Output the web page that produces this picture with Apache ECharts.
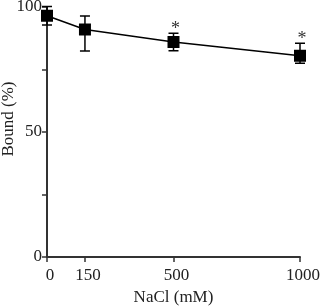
<!DOCTYPE html>
<html>
<head>
<meta charset="utf-8">
<script src="https://cdn.jsdelivr.net/npm/echarts@6/dist/echarts.min.js"></script>
<style>
  html, body { margin: 0; padding: 0; background: #fff; }
  #chart { width: 323px; height: 306px; }
</style>
</head>
<body>
<div id="chart"></div>
<script>
// NaCl concentration (mM) and % bound
const nacl = [0, 150, 500, 1000]
const bound = [96.5, 91, 86, 80.5]
const errHigh = [100.2, 96.4, 89.5, 85.5]
const errLow = [92.8, 82.4, 82.5, 77.5]
const significant = [false, false, true, true]
const xTicks = [0, 150, 500, 1000]
const yLabels = [0, 50, 100]
const yTicks = [0, 25, 50, 75, 100]

const font = 'Liberation Serif'
const chart = echarts.init(document.getElementById('chart'))

const errData = nacl.map((x, i) => [x, errLow[i], errHigh[i], significant[i] ? 1 : 0])

chart.setOption({
  animation: false,
  grid: { left: 47, top: 7, right: 23, bottom: 49, outerBoundsMode: 'none', containLabel: false },
  // y title sits a little above the axis middle in the original
  graphic: [{
    type: 'text',
    x: 9,
    y: 119,
    rotation: Math.PI / 2,
    style: {
      text: 'Bound (%)', fontFamily: font, fontSize: 17, fill: '#222',
      align: 'center', verticalAlign: 'middle'
    }
  }],
  xAxis: {
    type: 'value',
    min: 0,
    max: 1000,
    name: 'NaCl (mM)',
    nameLocation: 'middle',
    nameGap: 32,
    nameTextStyle: { fontFamily: font, fontSize: 17, color: '#222' },
    splitLine: { show: false },
    axisLine: { lineStyle: { color: '#333', width: 2 } },
    axisTick: { customValues: xTicks, length: 5, lineStyle: { color: '#333', width: 1.5 } },
    axisLabel: {
      customValues: xTicks, fontFamily: font, fontSize: 17, color: '#222', margin: 10,
      padding: [0, 0, 0, 6],
      formatter: v => String(v)
    }
  },
  yAxis: {
    type: 'value',
    min: 0,
    max: 100,
    splitLine: { show: false },
    axisLine: { show: true, lineStyle: { color: '#333', width: 2 } },
    axisTick: { customValues: yTicks, length: 5, lineStyle: { color: '#333', width: 1.5 } },
    axisLabel: { customValues: yLabels, fontFamily: font, fontSize: 17, color: '#222', margin: 5 }
  },
  series: [
    {
      type: 'custom',
      z: 3,
      renderItem: (params, api) => {
        const top = api.coord([api.value(0), api.value(2)])
        const bot = api.coord([api.value(0), api.value(1)])
        const w = 5
        const style = { stroke: '#000', lineWidth: 1.5 }
        const children = [
          { type: 'line', shape: { x1: top[0], y1: top[1], x2: bot[0], y2: bot[1] }, style },
          { type: 'line', shape: { x1: top[0] - w, y1: top[1], x2: top[0] + w, y2: top[1] }, style },
          { type: 'line', shape: { x1: bot[0] - w, y1: bot[1], x2: bot[0] + w, y2: bot[1] }, style }
        ]
        if (api.value(3)) {
          children.push({
            type: 'text',
            style: {
              text: '*', x: top[0] + 2, y: top[1] - 4,
              fontFamily: font, fontSize: 18, fill: '#333',
              align: 'center', verticalAlign: 'middle'
            }
          })
        }
        return { type: 'group', children }
      },
      data: errData
    },
    {
      type: 'line',
      z: 4,
      data: nacl.map((x, i) => [x, bound[i]]),
      symbol: 'rect',
      symbolSize: 12,
      itemStyle: { color: '#000' },
      lineStyle: { color: '#000', width: 1.5 }
    }
  ]
})
</script>
</body>
</html>
